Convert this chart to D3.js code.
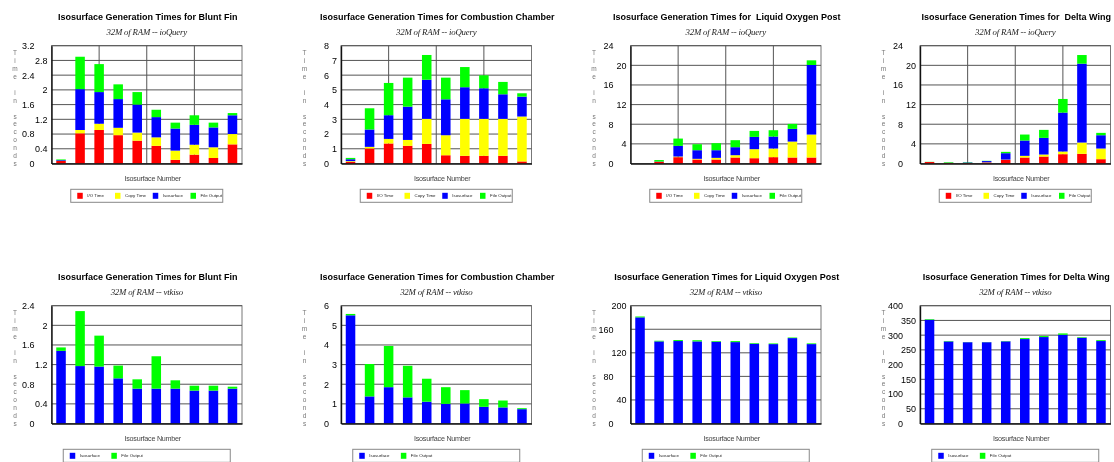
<!DOCTYPE html>
<html>
<head>
<meta charset="utf-8">
<script src="https://cdn.jsdelivr.net/npm/d3@7"></script>
<style>
  body { margin: 0; background: #fff; }
  svg { display: block; will-change: transform; -webkit-font-smoothing: antialiased; }
  text { white-space: pre; }
</style>
</head>
<body>
<svg id="chart" width="1114" height="462"></svg>
<script>
// ---- Data -------------------------------------------------------------
const isoNumbers = [1, 2, 3, 4, 5, 6, 7, 8, 9, 10];

const ioQueryParts = ["I/O Time", "Copy Time", "Isosurface", "File Output"];
const vtkisoParts  = ["Isosurface", "File Output"];

// ioQuery timings, seconds
const bluntFinIoTime     = [0.07, 0.82, 0.91, 0.77, 0.62, 0.48, 0.10, 0.24, 0.15, 0.52];
const bluntFinCopyTime   = [0.00, 0.09, 0.17, 0.20, 0.22, 0.23, 0.25, 0.27, 0.29, 0.28];
const bluntFinIsoTime    = [0.02, 1.11, 0.86, 0.78, 0.76, 0.55, 0.60, 0.54, 0.54, 0.51];
const bluntFinFileTime   = [0.02, 0.88, 0.76, 0.40, 0.34, 0.20, 0.16, 0.26, 0.13, 0.06];

const combustionIoTime   = [0.11, 1.02, 1.36, 1.20, 1.33, 0.56, 0.52, 0.52, 0.52, 0.14];
const combustionCopyTime = [0.05, 0.11, 0.31, 0.40, 1.70, 1.36, 2.51, 2.51, 2.51, 3.05];
const combustionIsoTime  = [0.13, 1.18, 1.61, 2.26, 2.66, 2.44, 2.15, 2.08, 1.67, 1.35];
const combustionFileTime = [0.09, 1.44, 2.19, 1.97, 1.68, 1.47, 1.37, 0.88, 0.84, 0.23];

const loxIoTime          = [0.00, 0.35, 1.29, 0.81, 0.81, 1.22, 1.08, 1.29, 1.22, 1.22];
const loxCopyTime        = [0.00, 0.00, 0.13, 0.14, 0.34, 0.47, 1.84, 1.76, 3.25, 4.68];
const loxIsoTime         = [0.00, 0.05, 2.17, 1.76, 1.56, 1.63, 2.50, 2.44, 2.58, 14.17];
const loxFileTime        = [0.00, 0.30, 1.49, 1.22, 1.43, 1.43, 1.22, 1.29, 1.02, 0.95];

const deltaIoTime        = [0.30, 0.12, 0.10, 0.20, 0.75, 1.22, 1.42, 1.90, 1.97, 0.88];
const deltaCopyTime      = [0.00, 0.00, 0.00, 0.05, 0.05, 0.34, 0.41, 0.54, 2.30, 2.17];
const deltaIsoTime       = [0.00, 0.03, 0.10, 0.25, 1.30, 3.12, 3.39, 7.93, 16.07, 2.71];
const deltaFileTime      = [0.04, 0.12, 0.07, 0.05, 0.27, 1.22, 1.63, 2.78, 1.76, 0.48];

// vtkiso timings, seconds
const bluntFinVtkIso     = [1.48, 1.17, 1.16, 0.92, 0.71, 0.71, 0.71, 0.67, 0.67, 0.71];
const bluntFinVtkFile    = [0.07, 1.12, 0.63, 0.26, 0.19, 0.66, 0.17, 0.10, 0.10, 0.04];

const combustionVtkIso   = [5.51, 1.38, 1.85, 1.33, 1.11, 1.00, 1.02, 0.85, 0.82, 0.73];
const combustionVtkFile  = [0.07, 1.65, 2.10, 1.61, 1.17, 0.85, 0.68, 0.39, 0.35, 0.05];

const loxVtkIso          = [180.2, 139.4, 140.0, 139.4, 138.8, 138.2, 135.4, 134.8, 145.0, 134.8];
const loxVtkFile         = [1.5, 1.1, 1.7, 2.0, 1.2, 1.7, 1.1, 1.1, 1.0, 1.2];

const deltaVtkIso        = [352.4, 278.8, 276.0, 276.0, 279.0, 286.7, 293.5, 301.4, 291.2, 280.0];
const deltaVtkFile       = [2.0, 1.4, 0.5, 0.5, 1.0, 3.3, 3.4, 4.5, 2.0, 3.0];

// y-axis tick values
const bluntFinIoTicks    = [0, 0.4, 0.8, 1.2, 1.6, 2, 2.4, 2.8, 3.2];
const combustionIoTicks  = [0, 1, 2, 3, 4, 5, 6, 7, 8];
const loxIoTicks         = [0, 4, 8, 12, 16, 20, 24];
const deltaIoTicks       = [0, 4, 8, 12, 16, 20, 24];
const bluntFinVtkTicks   = [0, 0.4, 0.8, 1.2, 1.6, 2, 2.4];
const combustionVtkTicks = [0, 1, 2, 3, 4, 5, 6];
const loxVtkTicks        = [0, 40, 80, 120, 160, 200];
const deltaVtkTicks      = [0, 50, 100, 150, 200, 250, 300, 350, 400];

const titles = [
  "Isosurface Generation Times for Blunt Fin",
  "Isosurface Generation Times for Combustion Chamber",
  "Isosurface Generation Times for  Liquid Oxygen Post",
  "Isosurface Generation Times for  Delta Wing"
];
const vtkTitles = [
  "Isosurface Generation Times for Blunt Fin",
  "Isosurface Generation Times for Combustion Chamber",
  "Isosurface Generation Times for Liquid Oxygen Post",
  "Isosurface Generation Times for Delta Wing"
];
const ioQuerySubtitle = "32M of RAM -- ioQuery";
const vtkisoSubtitle  = "32M of RAM -- vtkiso";
const yTitle = "Time in seconds";
const xTitle = "Isosurface Number";

// ---- Styling ----------------------------------------------------------
const partColor = {
  "I/O Time": "#ff0000",
  "Copy Time": "#ffff00",
  "Isosurface": "#0000ff",
  "File Output": "#00ff00"
};
const SANS = "'Liberation Sans', Arial, sans-serif";
const SERIF = "'Liberation Serif', 'Times New Roman', serif";

const svg = d3.select("#chart");
const fmt = v => String(+v.toFixed(2));

function drawPanel(col, row, cfg) {
  const ox = col * 289.5, oy = row * 260;
  const left = ox + 51.5, plotW = 190.5, right = left + plotW;
  const top = oy + 45.7, bottom = oy + 163.5;
  const cx = left + plotW / 2;
  const g = svg.append("g");

  const x = d3.scaleBand().domain(isoNumbers).range([left, right])
    .paddingInner(0.5).paddingOuter(0.25);
  const y = d3.scaleLinear().domain([0, d3.max(cfg.ticks)]).range([bottom, top]);

  // titles
  g.append("text").attr("x", cx + 1).attr("y", oy + 19.5)
    .attr("text-anchor", "middle").attr("font-family", SANS)
    .attr("font-weight", "bold").attr("font-size", 9).attr("fill", "#000")
    .text(cfg.title);
  g.append("text").attr("x", cx).attr("y", oy + 35)
    .attr("text-anchor", "middle").attr("font-family", SERIF)
    .attr("font-style", "italic").attr("font-size", 8.8).attr("fill", "#222")
    .attr("letter-spacing", -0.2)
    .text(cfg.subtitle);

  // plot frame
  g.append("rect").attr("x", left).attr("y", top)
    .attr("width", plotW).attr("height", bottom - top)
    .attr("fill", "#fff").attr("stroke", "#777").attr("stroke-width", 1);

  // horizontal grid
  g.append("g").selectAll("line").data(cfg.ticks.filter(t => t > 0)).join("line")
    .attr("x1", left).attr("x2", right)
    .attr("y1", d => y(d)).attr("y2", d => y(d))
    .attr("stroke", "#555").attr("stroke-width", 1);

  // vertical grid (quarters of the x range)
  if (cfg.vGrid) {
    const q = d3.scaleLinear().domain([0, 4]).range(x.range());
    g.append("g").selectAll("line").data([1, 2, 3]).join("line")
      .attr("x1", d => q(d)).attr("x2", d => q(d))
      .attr("y1", top).attr("y2", bottom)
      .attr("stroke", "#555").attr("stroke-width", 1);
  }

  // stacked bars
  const rows = isoNumbers.map((n, i) => {
    const r = { n };
    cfg.parts.forEach((p, k) => r[p] = cfg.values[k][i]);
    return r;
  });
  const stacked = d3.stack().keys(cfg.parts)(rows);
  g.append("g").selectAll("g").data(stacked).join("g")
    .attr("fill", d => partColor[d.key])
    .selectAll("rect").data(d => d).join("rect")
    .attr("x", d => x(d.data.n)).attr("width", x.bandwidth())
    .attr("y", d => y(d[1])).attr("height", d => Math.max(0, y(d[0]) - y(d[1])));

  // y axis with staggered labels
  const yAxis = g.append("g").attr("transform", `translate(${left},0)`)
    .call(d3.axisLeft(y).tickValues(cfg.ticks).tickSize(0).tickPadding(4).tickFormat(fmt));
  yAxis.select(".domain").attr("stroke", "#111").attr("stroke-width", 1.4);
  const labels = yAxis.selectAll(".tick text")
    .attr("font-family", SANS).attr("font-size", 9).attr("fill", "#000");
  let maxW = 0;
  labels.each(function () { maxW = Math.max(maxW, this.getComputedTextLength()); });
  const farShift = 4 + Math.min(maxW + 3, 13);
  labels.attr("x", (d, i) => i % 2 === 0 ? -farShift : -4);

  // x axis baseline
  const xAxis = g.append("g").attr("transform", `translate(0,${bottom})`)
    .call(d3.axisBottom(x).tickSize(0).tickFormat(""));
  xAxis.select(".domain").attr("stroke", "#111").attr("stroke-width", 1.4);

  // y title, one letter per line
  const letters = yTitle.split("");
  const ly = d3.scalePoint().domain(d3.range(letters.length))
    .range([top + 7.5, bottom]);
  g.append("g").selectAll("text").data(letters).join("text")
    .attr("x", ox + 15).attr("y", (d, i) => ly(i))
    .attr("dy", "0.35em").attr("text-anchor", "middle")
    .attr("font-family", SANS).attr("font-size", 6.5).attr("fill", "#777")
    .text(d => d);

  // x title
  g.append("text").attr("x", cx + 6).attr("y", bottom + 17.5)
    .attr("text-anchor", "middle").attr("font-family", SANS)
    .attr("font-size", 7.2).attr("letter-spacing", -0.25).attr("fill", "#444")
    .text(xTitle);

  // legend
  const n = cfg.parts.length;
  const boxW = n === 4 ? 152 : 167;
  const step = n === 4 ? 37.75 : 41.6;
  const bx = cx - boxW / 2, by = bottom + 25.8;
  g.append("rect").attr("x", bx).attr("y", by).attr("width", boxW).attr("height", 13)
    .attr("fill", "#fff").attr("stroke", "#888").attr("stroke-width", 1);
  const items = g.append("g").selectAll("g").data(cfg.parts).join("g")
    .attr("transform", (d, i) => `translate(${bx + 6.5 + i * step},${by + 3.5})`);
  items.append("rect").attr("width", 5.5).attr("height", 6)
    .attr("fill", d => partColor[d]);
  items.append("text").attr("x", 10).attr("y", 4.6)
    .attr("font-family", SANS).attr("font-size", 4.4).attr("fill", "#222")
    .text(d => d);
}

const ioPanels = [
  { ticks: bluntFinIoTicks,   values: [bluntFinIoTime, bluntFinCopyTime, bluntFinIsoTime, bluntFinFileTime] },
  { ticks: combustionIoTicks, values: [combustionIoTime, combustionCopyTime, combustionIsoTime, combustionFileTime] },
  { ticks: loxIoTicks,        values: [loxIoTime, loxCopyTime, loxIsoTime, loxFileTime] },
  { ticks: deltaIoTicks,      values: [deltaIoTime, deltaCopyTime, deltaIsoTime, deltaFileTime] }
];
const vtkPanels = [
  { ticks: bluntFinVtkTicks,   values: [bluntFinVtkIso, bluntFinVtkFile] },
  { ticks: combustionVtkTicks, values: [combustionVtkIso, combustionVtkFile] },
  { ticks: loxVtkTicks,        values: [loxVtkIso, loxVtkFile] },
  { ticks: deltaVtkTicks,      values: [deltaVtkIso, deltaVtkFile] }
];

ioPanels.forEach((p, i) => drawPanel(i, 0, {
  title: titles[i], subtitle: ioQuerySubtitle, parts: ioQueryParts,
  ticks: p.ticks, values: p.values, vGrid: true
}));
vtkPanels.forEach((p, i) => drawPanel(i, 1, {
  title: vtkTitles[i], subtitle: vtkisoSubtitle, parts: vtkisoParts,
  ticks: p.ticks, values: p.values, vGrid: false
}));
</script>
</body>
</html>
